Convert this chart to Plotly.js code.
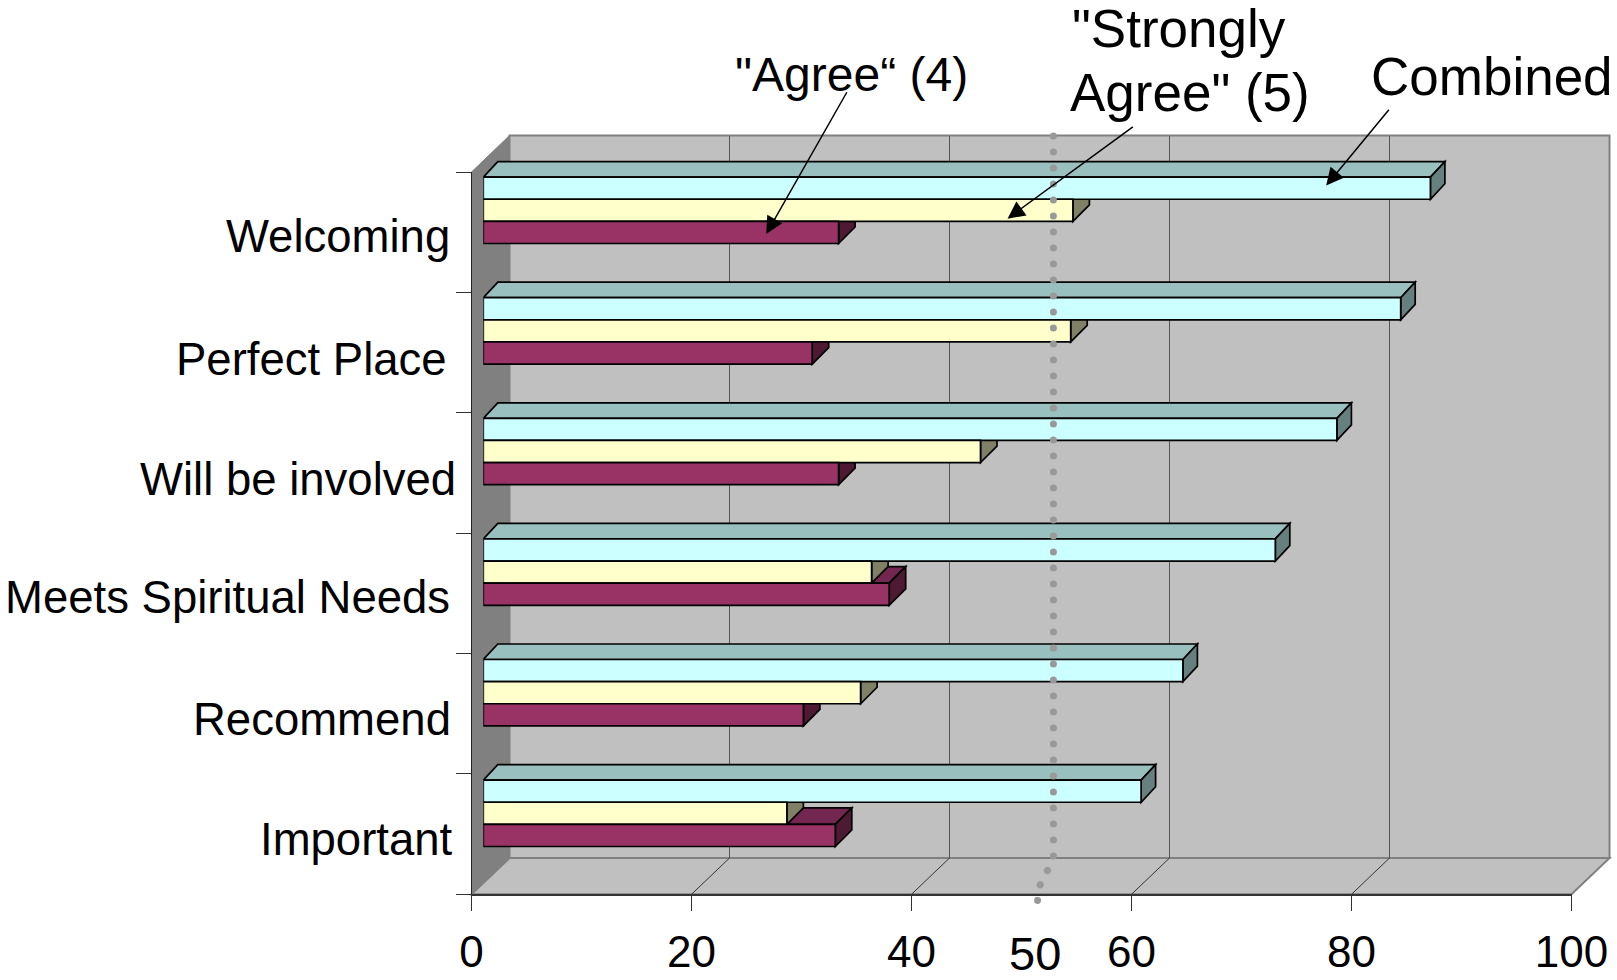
<!DOCTYPE html>
<html>
<head>
<meta charset="utf-8">
<script src="https://cdn.plot.ly/plotly-3.0.1.min.js"></script>
<style>
html,body{margin:0;padding:0;background:#fff;overflow:hidden}
.scatterlayer .js-line{stroke-linecap:round}
</style>
</head>
<body>
<div id="chart" style="width:1617px;height:980px"></div>
<script>
// ---- data ----
const categories = ["Welcoming","Perfect Place","Will be involved","Meets Spiritual Needs","Recommend","Important"];
const combined = [86.1,83.4,77.6,72.0,63.6,59.8];
const stronglyAgree = [53.6,53.4,45.2,35.3,34.3,27.6];
const agree = [32.3,29.9,32.3,36.9,29.1,32.0];
const xTickValues = [0,20,40,60,80,100];

// ---- layout helpers (page pixels) ----
const W = 1617, H = 980;
const fx = p => p / W, fy = p => 1 - p / H;
const pxPerUnit = 11, pxPerCat = 120.6, pxPerFrontCat = 120.38;
const FRONT = {l:471.5, r:1571.5, t:172, b:894.3};
const BACK  = {l:509.5, r:1609.5, t:135.5, b:858};
const BARS  = {l:483.3, r:1583.3, t:150, b:873.6};
const barH = 22.13 / pxPerCat;

const series = [
  {name:"Combined", vals:combined, front:"#CCFFFF", top:"#99BFBF", side:"#668080", k:-1, dx:14.5, dy:15.5},
  {name:"\"Strongly Agree\" (5)", vals:stronglyAgree, front:"#FFFFCC", top:"#BFBF99", side:"#808066", k:0, dx:16.5, dy:16.5},
  {name:"\"Agree\" (4)", vals:agree, front:"#993366", top:"#732650", side:"#4D1933", k:1, dx:16.5, dy:16.5}
];

const rows = categories.map((c,i)=>i);
const traces = [
  // keeps the back-wall subplot (and its grid lines) alive
  {type:"scatter", mode:"markers", x:[0], y:[0], xaxis:"x", yaxis:"y", marker:{opacity:0}, hoverinfo:"skip", showlegend:false}
];
series.forEach(s=>traces.push({
  type:"bar", orientation:"h", name:s.name, x:s.vals, y:rows,
  xaxis:"x2", yaxis:"y2",
  marker:{color:s.front, line:{color:"#000", width:1.7}},
  hoverinfo:"skip", showlegend:false
}));

// hand drawn 50 reference line, in front-axis units (drawn on its own taller overlay)
const REF = {t:130, b:915};
const refX = [52.9,52.9,51.6,51.4];
const refY = [6.3,0.294,0.062,-0.105];
traces.push({type:"scatter", mode:"lines", x:refX, y:refY, xaxis:"x4", yaxis:"y4",
  line:{color:"#999", width:7, dash:"0.1px,15.9px"}, hoverinfo:"skip", showlegend:false});

// ---- walls ----
const poly = pts => "M" + pts.map(p=>fx(p[0])+","+fy(p[1])).join(" L") + " Z";
const shapes = [
  {type:"path", xref:"paper", yref:"paper", layer:"below", path:poly([[BACK.l,BACK.t],[BACK.r,BACK.t],[BACK.r,BACK.b],[BACK.l,BACK.b]]),
   fillcolor:"#C0C0C0", line:{color:"#808080", width:2}},
  {type:"path", xref:"paper", yref:"paper", layer:"below", path:poly([[FRONT.l,FRONT.b],[BACK.l,BACK.b],[BACK.r,BACK.b],[FRONT.r,FRONT.b]]),
   fillcolor:"#C0C0C0", line:{color:"#808080", width:2}},
  {type:"path", xref:"paper", yref:"paper", layer:"below", path:poly([[FRONT.l,FRONT.t],[BACK.l,BACK.t],[BACK.l,BACK.b],[FRONT.l,FRONT.b]]),
   fillcolor:"#808080", line:{color:"#808080", width:1}}
];
// floor grid lines
xTickValues.slice(1,-1).forEach(v=>{
  shapes.push({type:"line", xref:"x3", yref:"paper", layer:"below", x0:v, x1:v+(BACK.l-FRONT.l)/pxPerUnit,
    y0:fy(FRONT.b), y1:fy(BACK.b), line:{color:"#333", width:1}});
});
// 3-D faces of every bar, back rows first
[series[2],series[1],series[0]].forEach(s=>{
  const dxU = s.dx / pxPerUnit, dyU = s.dy / pxPerCat;
  s.vals.forEach((v,i)=>{
    const yT = i + s.k*barH - barH/2, yB = yT + barH;
    shapes.push({type:"path", xref:"x2", yref:"y2", layer:"below", fillcolor:s.top, line:{color:"#000",width:1.7},
      path:`M0,${yT} L${dxU},${yT-dyU} L${v+dxU},${yT-dyU} L${v},${yT} Z`});
    shapes.push({type:"path", xref:"x2", yref:"y2", layer:"below", fillcolor:s.side, line:{color:"#000",width:1.7},
      path:`M${v},${yT} L${v+dxU},${yT-dyU} L${v+dxU},${yB-dyU} L${v},${yB} Z`});
  });
});

// ---- text ----
const FONT = "Liberation Sans, Arial, sans-serif";
const catRight = [452.1,449,458.3,452.1,453.2,455.2];
const catMid = [236.5,359,479,597.5,719.5,839.5];
const annotations = categories.map((c,i)=>({
  text:c, xref:"paper", yref:"paper", x:fx(catRight[i]), y:fy(catMid[i]), xanchor:"right", yanchor:"middle",
  showarrow:false, font:{family:FONT,size:45.5,color:"#000"}
}));
const label = (text,x,y,size,anchor)=>({text, xref:"paper", yref:"paper", x:fx(x), y:fy(y),
  xanchor:anchor||"left", yanchor:"middle", showarrow:false, font:{family:FONT,size,color:"#000"}});
annotations.push(label("\"Agree“ (4)",732.5,74,48));
annotations.push(label("\"Strongly",1070,28,53));
annotations.push(label("Agree\" (5)",1068,92,53));
annotations.push(label("Combined",1369,77,53));
annotations.push(label("50",1035,953,47,"center"));
const arrow = (x0,y0,x1,y1)=>({text:"", xref:"paper", yref:"paper", axref:"paper", ayref:"paper",
  x:fx(x1*1.03125), y:fy(y1*1.03125), ax:fx(x0*1.03125), ay:fy(y0*1.03125),
  showarrow:true, arrowhead:2, arrowsize:2.3, arrowwidth:1.5, arrowcolor:"#000", standoff:0, startstandoff:0});
annotations.push(arrow(822,88,743,227));
annotations.push(arrow(1100,122,977,212));
annotations.push(arrow(1348,105,1286,180));

const hidden = {showgrid:false, zeroline:false, showticklabels:false, ticks:"", showline:false};
const layout = {
  width:W, height:H, margin:{l:0,r:0,t:0,b:0}, autosize:false,
  paper_bgcolor:"#fff", plot_bgcolor:"rgba(0,0,0,0)", showlegend:false, hovermode:false,
  barmode:"group", bargap:1-3*barH, bargroupgap:0,
  font:{family:FONT,color:"#000"},
  // back wall (grid lines)
  xaxis:{...hidden, domain:[fx(BACK.l),fx(BACK.r)], range:[0,100], tickmode:"array", tickvals:xTickValues,
         showgrid:true, gridcolor:"#555", gridwidth:1, anchor:"y"},
  yaxis:{...hidden, domain:[fy(BACK.b),fy(BACK.t)], range:[0,1], anchor:"x"},
  // plane of the bars
  xaxis2:{...hidden, domain:[fx(BARS.l),fx(BARS.r)], range:[0,100], anchor:"y2"},
  yaxis2:{...hidden, domain:[fy(BARS.b),fy(BARS.t)], range:[5.5,-0.5], anchor:"x2"},
  // front plane with the visible ticks
  xaxis3:{domain:[fx(FRONT.l),fx(FRONT.r)], range:[0,100], anchor:"y3", tickmode:"array", tickvals:xTickValues,
          ticks:"outside", ticklen:15, tickcolor:"#333", tickwidth:1, showline:true, linecolor:"#333", linewidth:1.5,
          showgrid:false, zeroline:false, tickfont:{family:FONT,size:44,color:"#000"}, ticklabelstandoff:3},
  yaxis3:{domain:[fy(FRONT.b),fy(FRONT.t)], range:[0,6], anchor:"x3", tickmode:"array", tickvals:[0,1,2,3,4,5,6],
          ticks:"outside", ticklen:15, tickcolor:"#333", tickwidth:1, showline:true, linecolor:"#222", linewidth:1,
          showgrid:false, zeroline:false, showticklabels:false},
  // taller overlay for the reference line, same scale as the front plane
  xaxis4:{...hidden, domain:[fx(FRONT.l),fx(FRONT.r)], range:[0,100], anchor:"y4"},
  yaxis4:{...hidden, domain:[fy(REF.b),fy(REF.t)], range:[(FRONT.b-REF.b)/pxPerFrontCat,(FRONT.b-REF.t)/pxPerFrontCat], anchor:"x4"},
  shapes, annotations
};
Plotly.newPlot("chart", traces, layout, {displayModeBar:false, staticPlot:true});
</script>
</body>
</html>
